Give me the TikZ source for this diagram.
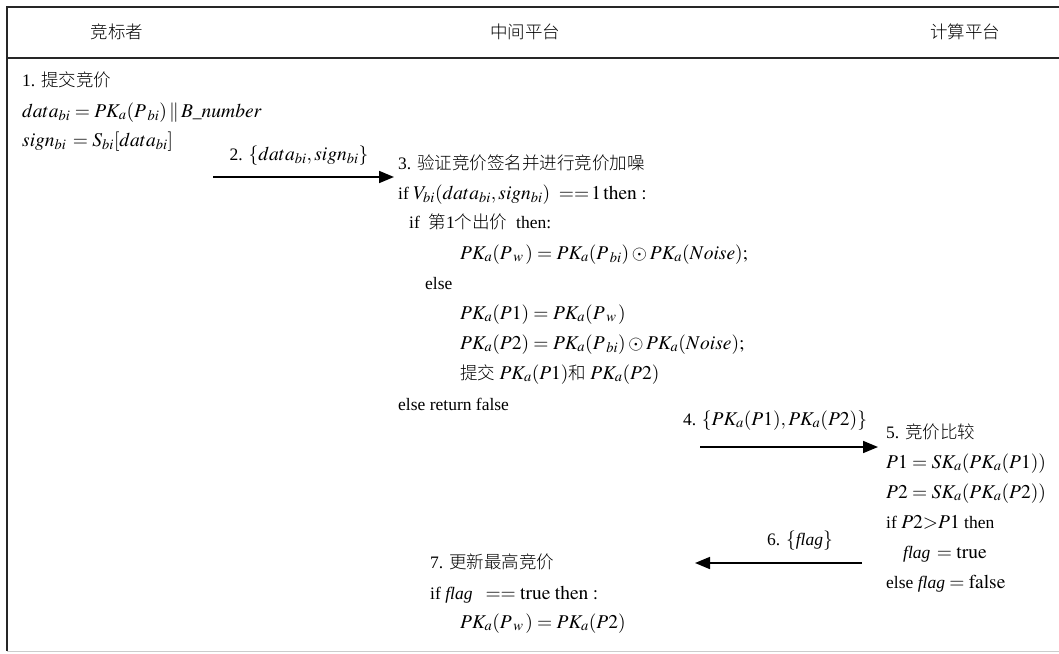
\documentclass[tikz,border=0pt]{standalone}
\usepackage{mathptmx}
\usepackage[no-math]{fontspec}
\setmainfont{Liberation Serif}
\newfontfamily\cjk{Noto Sans CJK SC Light}
\newcommand{\zh}[1]{{\cjk #1}}
\newcommand{\flg}{\textit{flag}}
\newcommand{\Pw}{P{}_{\,w\,}}
\newcommand{\Pbi}{P{}_{\,bi}}
\DeclareMathSizes{17.5}{19.5}{14.5}{11}
\usetikzlibrary{arrows.meta}
\begin{document}
\begin{tikzpicture}[x=1pt,y=-1pt,
  txt/.style={anchor=base west,inner sep=0pt,font=\fontsize{17.5}{20}\selectfont},
  hdr/.style={anchor=base,inner sep=0pt,font=\fontsize{17.5}{20}\selectfont},
  lbl/.style={anchor=base,inner sep=0pt,font=\fontsize{17.5}{20}\selectfont},
  msg/.style={-{Triangle[length=15pt,width=12pt]},line width=1.7pt}]
\useasboundingbox (0,0) rectangle (1059,653);
% frame
\coordinate (tl) at (7,7);
\coordinate (tr) at (1059,7);
\coordinate (bl) at (7,651);
\coordinate (br) at (1059,651);
\coordinate (sl) at (7,58);
\coordinate (sr) at (1059,58);
\draw[line width=2pt,black!85] (tr) -- (tl) -- (bl);
\draw[line width=1.2pt,black!85] (sl) -- (sr);
\draw[line width=1pt,black!20] (bl) -- (br);
% header
\node[hdr] (h1) at (117,38) {\zh{竞标者}};
\node[hdr] (h2) at (525,38) {\zh{中间平台}};
\node[hdr] (h3) at (965,38) {\zh{计算平台}};
% block 1
\node[txt] (b1a) at (22,86) {1. \zh{提交竞价}};
\node[txt] (b1b) at (22,117) {$data_{bi}=PK_a(\Pbi)\,\|\,B\_number$};
\node[txt] (b1c) at (22,146) {$sign_{bi}\,=S_{bi}[data_{bi}]$};
% message 2
\node[lbl] (m2) at (299,160) {2. $\{data_{bi},sign_{bi}\}$};
\coordinate (a2s) at (213,177);
\coordinate (a2e) at (394,177);
\draw[msg] (a2s) -- (a2e);
% block 3
\node[txt] (b3a) at (398,169) {3. \zh{验证竞价签名并进行竞价加噪}};
\node[txt] (b3b) at (398,199) {if $V_{bi}(data_{bi},sign_{bi})\ ==\!1\,\mathrm{then}:$};
\node[txt] (b3c) at (409,228) {if\ \ \zh{第}1\zh{个出价}\ \ then:};
\node[txt] (b3d) at (460,259) {$PK_a(\Pw)=PK_a(\Pbi)\odot PK_a(Noise);$};
\node[txt] (b3e) at (425,289) {else};
\node[txt] (b3f) at (460,319) {$PK_a(P1)=PK_a(\Pw)$};
\node[txt] (b3g) at (460,349) {$PK_a(P2)=PK_a(\Pbi)\odot PK_a(Noise);$};
\node[txt] (b3h) at (460,379) {\zh{提交} $PK_a(P1)$\zh{和} $PK_a(P2)$};
\node[txt] (b3i) at (398,410) {else return false};
% message 4
\node[lbl] (m4) at (775,425) {4. $\{PK_a(P1),PK_a(P2)\}$};
\coordinate (a4s) at (700,447);
\coordinate (a4e) at (878,447);
\draw[msg] (a4s) -- (a4e);
% block 5
\node[txt] (b5a) at (886,438) {5. \zh{竞价比较}};
\node[txt] (b5b) at (886,468) {$P1=SK_a(PK_a(P1))$};
\node[txt] (b5c) at (886,498) {$P2=SK_a(PK_a(P2))$};
\node[txt] (b5d) at (886,528) {if $P2{>}P1$ then};
\node[txt] (b5e) at (903,558) {$\flg\,=\mathrm{true}$};
\node[txt] (b5f) at (886,588) {else $\flg=\mathrm{false}$};
% message 6
\node[lbl] (m6) at (800,545) {6. $\{\flg\}$};
\coordinate (a6s) at (862,563);
\coordinate (a6e) at (695,563);
\draw[msg] (a6s) -- (a6e);
% block 7
\node[txt] (b7a) at (430,568) {7. \zh{更新最高竞价}};
\node[txt] (b7b) at (430,599) {if $\flg\ \ ==\mathrm{true\ then}:$};
\node[txt] (b7c) at (460,628) {$PK_a(\Pw)=PK_a(P2)$};
\end{tikzpicture}
\end{document}
